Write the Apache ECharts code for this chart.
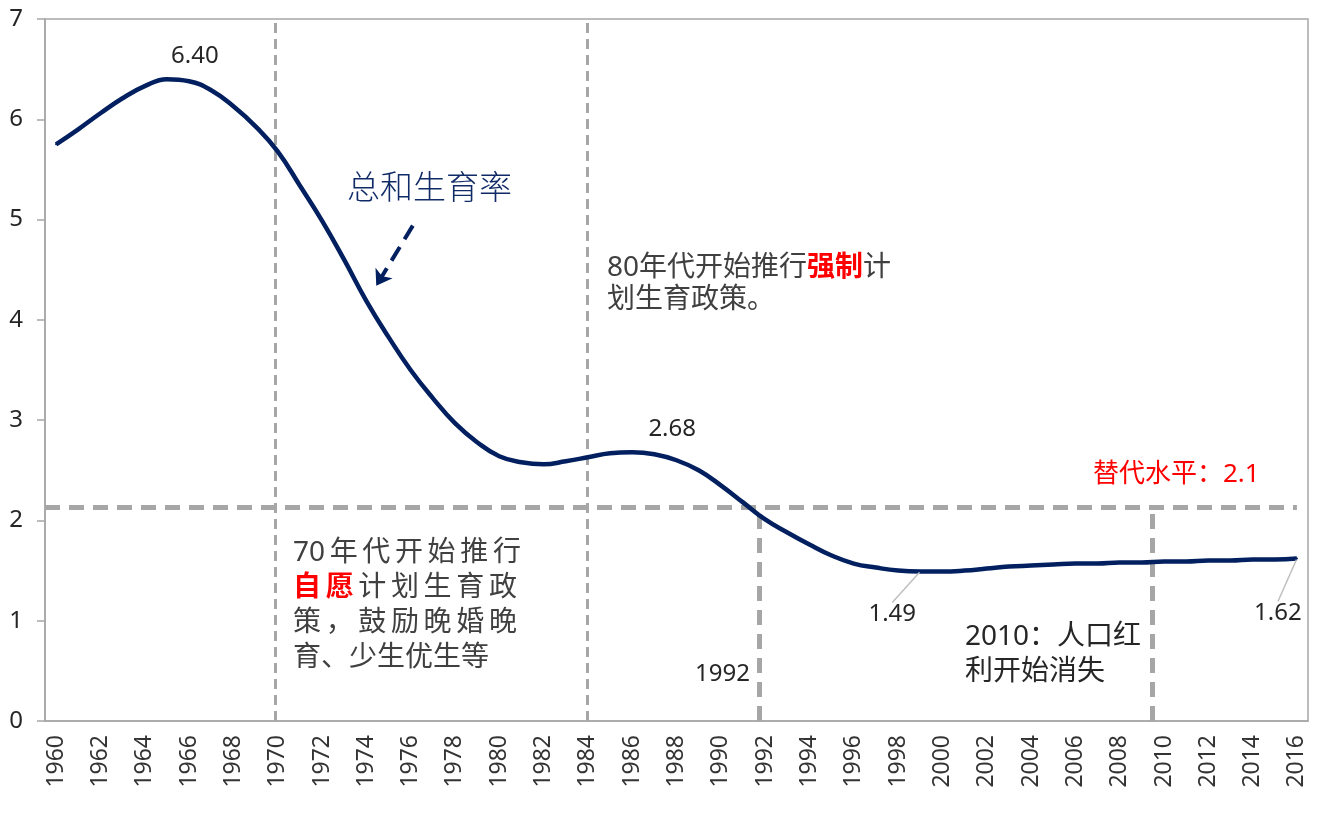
<!DOCTYPE html>
<html>
<head>
<meta charset="utf-8">
<script src="https://cdn.jsdelivr.net/npm/echarts@6/dist/echarts.min.js"></script>
<style>
html,body{margin:0;padding:0;background:#fff;}
#chart{width:1323px;height:824px;}
</style>
</head>
<body>
<div id="chart"></div>
<script>
// ---- data ----
const years = ['1960','1961','1962','1963','1964','1965','1966','1967','1968','1969',
  '1970','1971','1972','1973','1974','1975','1976','1977','1978','1979',
  '1980','1981','1982','1983','1984','1985','1986','1987','1988','1989',
  '1990','1991','1992','1993','1994','1995','1996','1997','1998','1999',
  '2000','2001','2002','2003','2004','2005','2006','2007','2008','2009',
  '2010','2011','2012','2013','2014','2015','2016'];
const tfr = [5.75,5.90,6.06,6.21,6.33,6.40,6.38,6.29,6.13,5.93,
  5.68,5.34,4.99,4.60,4.19,3.83,3.50,3.22,2.97,2.78,
  2.64,2.58,2.56,2.59,2.63,2.67,2.68,2.66,2.60,2.50,
  2.35,2.18,2.01,1.88,1.76,1.65,1.57,1.53,1.50,1.49,
  1.49,1.50,1.52,1.54,1.55,1.56,1.57,1.57,1.58,1.58,
  1.59,1.59,1.60,1.60,1.61,1.61,1.62];
const yTicks = [0,1,2,3,4,5,6,7];
const labelledYears = ['1965','1986','1999','2016'];
const leaderYears = ['1999','2016'];
// annotation guide positions (in year units / TFR units)
const policyLines = [1969.9, 1983.95];   // full-height dashed lines
const markerLines = [1991.75, 2009.45];  // dashed lines from replacement level down
const replacementLevel = 2.13;
const arrowFrom = [1976.1, 4.94];
const arrowTo = [1974.45, 4.34];

const FONT = '"Noto Sans", "Noto Sans CJK SC", sans-serif';
const gray = '#a6a6a6';
const navy = '#022060';

const seriesData = tfr.map((v, i) => {
  const item = { value: v };
  if (labelledYears.indexOf(years[i]) >= 0) {
    item.label = { show: true };
    if (leaderYears.indexOf(years[i]) >= 0) {
      item.labelLine = { show: true, lineStyle: { color: '#bfbfbf', width: 1.5 } };
    }
  }
  return item;
});

const labelMoves = { '1965': [28, -23], '1986': [40, -23], '1999': [-28, 43], '2016': [-19, 55] };

const markData = [];
policyLines.forEach(x => markData.push([{ coord: [x, 0] }, { coord: [x, 6.97] }]));
const markData2 = [];
markerLines.forEach(x => markData2.push([{ coord: [x, 0] }, { coord: [x, replacementLevel] }]));
markData2.push([{ coord: [1959.5, replacementLevel] }, { coord: [2016.0, replacementLevel] }]);

const chart = echarts.init(document.getElementById('chart'));
chart.setOption({
  animation: false,
  backgroundColor: '#fff',
  grid: { left: 45, right: 15, top: 19, bottom: 103, show: true, borderColor: gray, borderWidth: 1.5 },
  xAxis: [{
    type: 'category', data: years, boundaryGap: true,
    axisLine: { lineStyle: { color: gray, width: 1.5 } },
    axisTick: { interval: 1, length: 8, lineStyle: { color: gray, width: 1.5 } },
    axisLabel: { interval: 1, rotate: 90, fontSize: 23, color: '#333', fontFamily: FONT, margin: 14 }
  }, {
    type: 'value', min: 1959.5, max: 2016.5, show: false
  }],
  yAxis: [{
    type: 'value', min: yTicks[0], max: yTicks[yTicks.length - 1], interval: 1,
    axisLine: { show: true, lineStyle: { color: gray, width: 1.5 } },
    axisTick: { show: true, length: 8, lineStyle: { color: gray, width: 1.5 } },
    splitLine: { show: false },
    axisLabel: { fontSize: 24, color: '#262626', fontFamily: FONT, margin: 22 }
  }],
  series: [{
    type: 'line', xAxisIndex: 1, yAxisIndex: 0, data: [], silent: true, z: 1,
    markLine: {
      silent: true, symbol: ['none', 'none'], label: { show: false },
      lineStyle: { color: gray, width: 3, type: [10, 6] },
      data: markData
    }
  }, {
    type: 'line', xAxisIndex: 1, yAxisIndex: 0, data: [], silent: true, z: 1,
    markLine: {
      silent: true, symbol: ['none', 'none'], label: { show: false },
      lineStyle: { color: gray, width: 5, type: [15, 9] },
      data: markData2
    }
  }, {
    type: 'line', xAxisIndex: 1, yAxisIndex: 0, data: [], silent: true, z: 3,
    markLine: {
      silent: true, symbol: ['none', 'arrow'], symbolSize: 15, label: { show: false },
      lineStyle: { color: navy, width: 4, type: [16, 9] },
      data: [[{ coord: arrowFrom }, { coord: arrowTo }]]
    }
  }, {
    type: 'line', xAxisIndex: 0, yAxisIndex: 0, z: 5,
    data: seriesData, smooth: 0.45,
    symbol: 'circle', symbolSize: 2, showSymbol: true,
    itemStyle: { color: navy },
    lineStyle: { color: navy, width: 4.5 },
    label: {
      show: false, position: 'inside', fontSize: 24, color: '#262626', fontFamily: FONT,
      formatter: p => p.value.toFixed(2)
    },
    labelLayout: function (p) {
      const m = labelMoves[years[p.dataIndex]];
      return m ? { dx: m[0], dy: m[1] } : {};
    }
  }],
  graphic: [
    { type: 'text', left: 347, top: 170, z: 10,
      style: { text: '总和生育率', fill: '#0f2a66', font: '300 33px "Noto Sans CJK SC", sans-serif' } },
    { type: 'text', left: 607, top: 252, z: 10,
      style: {
        text: '80年代开始推行{r|强制}计\n划生育政策。',
        fill: '#404040', font: '28px ' + FONT, lineHeight: 32,
        rich: { r: { fill: '#ff0000', fontWeight: 'bold', fontSize: 28, fontFamily: FONT, lineHeight: 32 } }
      } },
    { type: 'text', left: 293, top: 536, z: 10,
      style: {
        text: '70\u2009年\u2009代\u2009开\u2009始\u2009推\u2009行\n{r|自\u2009愿}\u2009计\u2009划\u2009生\u2009育\u2009政\n策\u2009，\u2009鼓\u2009励\u2009晚\u2009婚\u2009晚\n育、少生优生等',
        fill: '#404040', font: '28px ' + FONT, lineHeight: 35,
        rich: { r: { fill: '#ff0000', fontWeight: 'bold', fontSize: 28, fontFamily: FONT, lineHeight: 35 } }
      } },
    { type: 'text', left: 1093, top: 462, z: 10,
      style: { text: '替代水平：2.1', fill: '#ff0000', font: '26px ' + FONT } },
    { type: 'text', left: 695, top: 662, z: 10,
      style: { text: '1992', fill: '#262626', font: '24px ' + FONT } },
    { type: 'text', left: 965, top: 620, z: 10,
      style: { text: '2010：人口红\n利开始消失', fill: '#262626', font: '28px ' + FONT, lineHeight: 35 } }
  ]
});
</script>
</body>
</html>
